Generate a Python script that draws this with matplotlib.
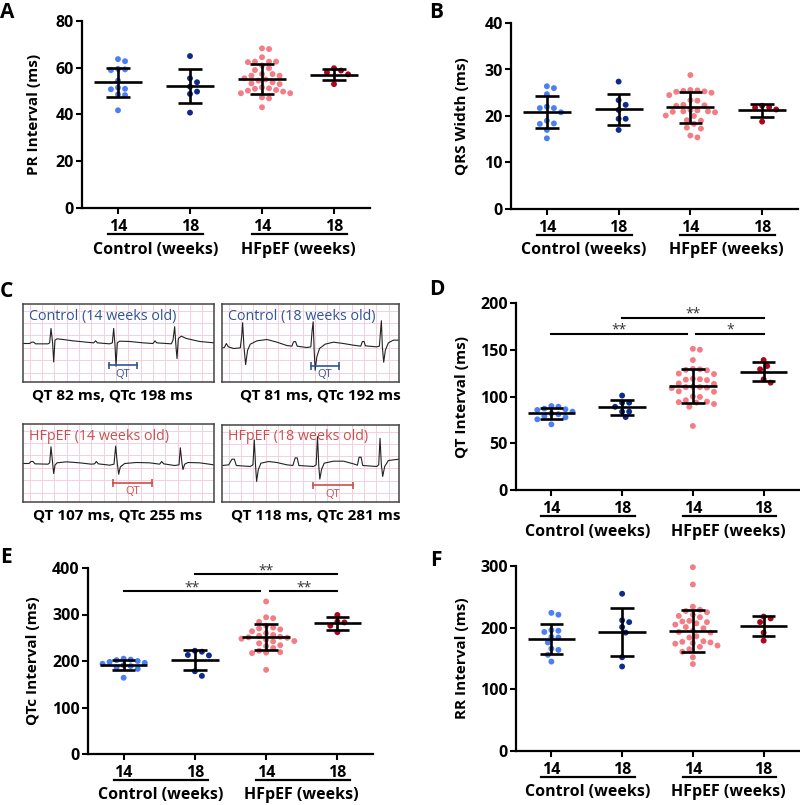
import numpy as np
import matplotlib.pyplot as plt
from matplotlib.transforms import blended_transform_factory

plt.rcParams['font.family'] = ['Open Sans', 'DejaVu Sans']
plt.rcParams['font.weight'] = 'bold'

W, H = 800, 805

# groups (order: control 14, control 18, HFpEF 14, HFpEF 18)
week_labels = ['14', '18', '14', '18']
group_names = ['Control (weeks)', 'HFpEF (weeks)']
dot_colors = ['#4c7ff5', '#0d2b8e', '#f47c84', '#b3001b']

# A: PR interval
pr_c14 = [63.7, 62.8, 59.5, 59.3, 59.0, 54.5, 51.5, 51.0, 50.8, 48.6, 48.3, 41.8]
pr_c18 = [65.0, 55.5, 53.8, 51.9, 49.8, 48.8, 40.8]
pr_h14 = [68.3, 68.0, 64.5, 62.6, 62.6, 62.6, 62.4, 61.0, 59.8, 59.0, 57.3, 57.3,
          56.6, 56.6, 55.5, 55.0, 54.5, 53.8, 53.3, 53.0, 51.6, 51.2, 51.0, 50.5,
          50.2, 49.8, 49.1, 49.1, 47.3, 46.9, 43.1]
pr_h18 = [59.8, 58.8, 58.0, 57.2, 53.0]
pr_mean = [53.8, 52.3, 55.2, 57.1]
pr_sd = [6.3, 7.25, 6.35, 2.5]

# B: QRS width
qrs_c14 = [26.4, 26.0, 24.7, 22.0, 21.7, 21.7, 20.8, 19.0, 18.4, 18.3, 17.0, 15.2]
qrs_c18 = [27.4, 23.4, 22.4, 21.3, 19.4, 19.4, 17.0]
qrs_h14 = [28.8, 25.6, 25.5, 25.4, 25.3, 25.2, 25.0, 24.5, 23.4, 23.3, 22.4, 22.3,
           22.2, 21.3, 21.2, 21.0, 21.0, 20.9, 20.8, 20.1, 20.0, 19.1, 19.0, 18.3,
           17.5, 17.3, 15.8, 15.4]
qrs_h18 = [22.2, 21.9, 21.8, 21.4, 18.8]
qrs_mean = [20.9, 21.4, 21.85, 21.2]
qrs_sd = [3.4, 3.3, 3.25, 1.4]

# D: QT interval
qt_c14 = [89.8, 89.1, 87.0, 86.3, 85.6, 83.8, 82.0, 81.0, 79.1, 77.7, 75.6, 70.2]
qt_c18 = [101.0, 93.4, 93.4, 89.0, 83.8, 83.8, 78.0]
qt_h14 = [151, 150, 139, 129.5, 129, 128.5, 128, 124.5, 124, 119, 118.5, 118, 117.5,
          114, 113.5, 110.5, 110, 110, 109.5, 109, 105.5, 105, 100, 99.5, 96, 94.5,
          94, 93.5, 92, 89, 68.5]
qt_h18 = [139.0, 132.6, 129.1, 118.4, 114.8]
qt_mean = [82.3, 88.4, 111.2, 126.6]
qt_sd = [5.9, 8.2, 17.8, 10.0]
qt_sig = [(1, 3, 184, '**'), (0, 1.92, 167, '**'), (2.05, 3, 167, '*')]

# E: QTc interval
qtc_c14 = [205, 203, 202, 200, 198, 196, 194, 191, 189, 186, 183, 164]
qtc_c18 = [222, 220, 213, 212, 178, 168]
qtc_h14 = [328, 294, 292, 284, 276, 272, 270, 268, 264, 260, 256, 254, 252, 251,
           250, 248, 246, 243, 242, 238, 234, 232, 228, 222, 219, 218, 217, 181]
qtc_h18 = [299, 285, 283, 276, 262]
qtc_mean = [192, 202.2, 252.3, 281]
qtc_sd = [11, 21.2, 27.6, 13.7]
qtc_sig = [(1, 3, 387, '**'), (0, 1.92, 350, '**'), (2.05, 3, 350, '**')]

# F: RR interval
rr_c14 = [224, 221, 196, 195, 193, 185, 184, 176, 166, 164, 156, 145]
rr_c18 = [255, 212, 209, 201, 192, 152, 137]
rr_h14 = [298, 270, 234, 229, 227, 225, 221, 219, 217, 211, 210, 209, 207, 205, 201,
          199, 195, 193, 192, 186, 184, 178, 177, 176, 175, 174, 171, 169, 165, 161,
          152, 141]
rr_h18 = [218, 215, 209, 192, 179]
rr_mean = [181.6, 193.2, 195, 202.7]
rr_sd = [24.5, 39.2, 34.3, 17]

# C: example ECG traces (box-local pixel units)
ecg_titles = ['Control (14 weeks old)', 'Control (18 weeks old)',
              'HFpEF (14 weeks old)', 'HFpEF (18 weeks old)']
ecg_captions = ['QT 82 ms, QTc 198 ms', 'QT 81 ms, QTc 192 ms',
                'QT 107 ms, QTc 255 ms', 'QT 118 ms, QTc 281 ms']
ecg1 = [(10, 130), (30, 130), (36, 126), (42, 126), (48, 131), (85, 131), (90, 128), (94, 85),
        (99, 130), (102, 185), (106, 120), (112, 116), (130, 118), (160, 122), (200, 126),
        (222, 128), (228, 122), (233, 128), (270, 131), (278, 128), (282, 85), (286, 135),
        (289, 198), (293, 128), (300, 123), (330, 124), (370, 128), (400, 130), (406, 122),
        (411, 128), (455, 131), (460, 120), (465, 80), (469, 140), (472, 175), (476, 115),
        (485, 108), (500, 115), (540, 124), (583, 128)]
ecg2 = [(607, 143), (612, 142), (618, 130), (624, 140), (640, 145), (660, 143), (664, 110),
        (667, 68), (671, 140), (676, 193), (682, 150), (690, 132), (710, 122), (740, 118),
        (770, 126), (800, 136), (815, 138), (820, 125), (826, 124), (831, 138), (860, 142),
        (872, 140), (876, 90), (879, 65), (882, 150), (885, 210), (890, 170), (898, 145),
        (915, 132), (940, 126), (970, 130), (1000, 135), (1022, 138), (1027, 124),
        (1032, 124), (1036, 137), (1070, 140), (1078, 138), (1081, 100), (1084, 62),
        (1087, 140), (1091, 186), (1096, 150), (1105, 128), (1120, 120), (1137, 120)]
ecg3 = [(10, 490), (28, 490), (34, 484), (40, 484), (46, 491), (85, 492), (90, 488), (94, 440),
        (99, 490), (102, 520), (106, 495), (112, 488), (140, 485), (180, 488), (215, 492),
        (225, 491), (230, 484), (236, 491), (270, 495), (283, 492), (288, 438), (293, 490),
        (297, 522), (302, 500), (315, 490), (350, 487), (390, 488), (420, 492), (426, 484),
        (432, 491), (465, 496), (478, 494), (482, 443), (487, 490), (490, 508), (495, 492),
        (505, 487), (540, 488), (583, 494)]
ecg4 = [(607, 497), (625, 495), (635, 478), (642, 478), (648, 497), (690, 500), (698, 495),
        (702, 420), (706, 500), (709, 545), (714, 510), (722, 490), (745, 485), (770, 488),
        (800, 495), (818, 497), (825, 474), (831, 474), (836, 497), (880, 500), (888, 495),
        (892, 410), (896, 500), (899, 538), (904, 510), (912, 490), (940, 484), (970, 484),
        (1000, 492), (1012, 496), (1017, 472), (1023, 472), (1028, 497), (1070, 500),
        (1076, 495), (1080, 415), (1084, 495), (1088, 530), (1094, 500), (1105, 482),
        (1137, 478)]
ecg_traces = [ecg1, ecg2, ecg3, ecg4]
# QT bracket: x start, x end, y
qt_brackets = [(268, 353, 195), (872, 958, 197), (280, 397, 548), (878, 1000, 557)]
# box extents in the same units: x0, x1, y0, y1
ecg_boxes = [(10, 583, 12, 245), (605, 1137, 12, 245), (10, 583, 372, 605), (605, 1137, 375, 607)]

fig = plt.figure(figsize=(W / 100, H / 100), dpi=100)


def frac(x0, y0, x1, y1):
    return [x0 / W, 1 - y1 / H, (x1 - x0) / W, (y1 - y0) / H]


def letter(x, y, s):
    fig.text(x / W, 1 - y / H, s, fontsize=15, fontweight='bold', ha='left', va='baseline')


def swarm_offsets(ax, x0, vals, d=6.4):
    pts = ax.transData.transform(np.column_stack([np.full(len(vals), x0), vals]))
    ppu = ax.transData.transform((1, 0))[0] - ax.transData.transform((0, 0))[0]
    order = np.argsort(vals)[::-1]
    placed = []
    offs = np.zeros(len(vals))
    step = d * 0.55
    for i in order:
        y = pts[i, 1]
        for k in range(60):
            cand = ((k + 1) // 2) * step * (1 if k % 2 else -1)
            if all((cand - px) ** 2 + (y - py) ** 2 >= (d * 0.98) ** 2 for px, py in placed):
                break
        placed.append((cand, y))
        offs[i] = cand
    return x0 + offs / ppu


def dot_panel(rect, series, means, sds, ylim, yticks, ylabel, label_x, sig=None):
    ax = fig.add_axes(frac(*rect))
    ax.set_xlim(-0.5, 3.5)
    ax.set_ylim(*ylim)
    for s in ['top', 'right']:
        ax.spines[s].set_visible(False)
    for s in ['left', 'bottom']:
        ax.spines[s].set_linewidth(1.6)
    ax.set_yticks(yticks)
    ax.set_xticks(range(4))
    ax.set_xticklabels(week_labels)
    ax.tick_params(axis='both', length=4, width=1.5, labelsize=11.5, pad=2)
    ax.tick_params(axis='x', pad=4)
    ax.set_ylabel(ylabel, fontsize=11, fontweight='bold')
    ax.yaxis.set_label_coords(label_x, 0.5)
    for i, vals in enumerate(series):
        xs = swarm_offsets(ax, i, vals)
        ax.scatter(xs, vals, s=18, color=dot_colors[i], edgecolors='none', zorder=2, clip_on=False)
        m, sd = means[i], sds[i]
        ax.hlines(m, i - 0.335, i + 0.335, color='black', lw=1.9, zorder=3)
        ax.vlines(i, m - sd, m + sd, color='black', lw=1.9, zorder=3)
        ax.hlines([m - sd, m + sd], i - 0.165, i + 0.165, color='black', lw=1.9, zorder=3)
    tr = blended_transform_factory(ax.transData, ax.transAxes)
    for x0, x1, xc, name in [(-0.14, 1.18, 0.52, group_names[0]), (1.86, 3.18, 2.5, group_names[1])]:
        ax.plot([x0, x1], [-0.139, -0.139], color='black', lw=1.6, transform=tr, clip_on=False)
        ax.text(xc, -0.222, name, transform=tr, ha='center', va='center', fontsize=11.5,
                fontweight='bold')
    if sig:
        for x0, x1, y, stars in sig:
            ax.plot([x0, x1], [y, y], color='black', lw=1.5, clip_on=False)
            ax.annotate(stars, ((x0 + x1) / 2, y), xytext=(0, 0), textcoords='offset points',
                        ha='center', va='baseline', fontsize=10, fontweight='normal',
                        color='#333333', annotation_clip=False)
    return ax


dot_panel((82, 21, 370, 208), [pr_c14, pr_c18, pr_h14, pr_h18], pr_mean, pr_sd,
          (0, 80), [0, 20, 40, 60, 80], 'PR Interval (ms)', -0.142)
dot_panel((511, 23, 798, 209), [qrs_c14, qrs_c18, qrs_h14, qrs_h18], qrs_mean,
          qrs_sd, (0, 40), [0, 10, 20, 30, 40], 'QRS Width (ms)', -0.146)
dot_panel((516, 303, 799, 490), [qt_c14, qt_c18, qt_h14, qt_h18], qt_mean,
          qt_sd, (0, 200), [0, 50, 100, 150, 200], 'QT Interval (ms)', -0.165, qt_sig)
dot_panel((88, 568, 373, 754), [qtc_c14, qtc_c18, qtc_h14, qtc_h18], qtc_mean,
          qtc_sd, (0, 400), [0, 100, 200, 300, 400], 'QTc Interval (ms)', -0.17, qtc_sig)
dot_panel((516, 566, 799, 751), [rr_c14, rr_c18, rr_h14, rr_h18], rr_mean,
          rr_sd, (0, 300), [0, 100, 200, 300], 'RR Interval (ms)', -0.165)

letter(0, 18, 'A')
letter(429, 18, 'B')
letter(0, 297, 'C')
letter(429, 295, 'D')
letter(0, 563, 'E')
letter(430, 566, 'F')

# panel C: ECG examples
ecg_rects = [(23, 304, 214, 382), (222, 304, 399, 382), (23, 424, 214, 502), (222, 425, 399, 502)]
caption_xy = [(112, 396), (320, 396), (118, 515), (316, 515)]
title_colors = ['#2f5597', '#2f5597', '#c9504f', '#c9504f']
for k in range(4):
    ax = fig.add_axes(frac(*ecg_rects[k]))
    bx0, bx1, by0, by1 = ecg_boxes[k]
    ax.set_xlim(bx0, bx1)
    ax.set_ylim(by1, by0)
    ax.set_xticks([])
    ax.set_yticks([])
    for s in ax.spines.values():
        s.set_linewidth(1.1)
        s.set_color('#444444')
    for gx in np.arange(bx0 + 20, bx1, 37):
        ax.axvline(gx, color='#f5cfe0', lw=0.7, zorder=0)
    for gy in np.arange(by0 + 20, by1, 37):
        ax.axhline(gy, color='#f5cfe0', lw=0.7, zorder=0)
    tx, ty = zip(*ecg_traces[k])
    ax.plot(tx, ty, color='#222222', lw=0.8, zorder=2)
    qx0, qx1, qy = qt_brackets[k]
    c = title_colors[k]
    ax.plot([qx0, qx1], [qy, qy], color=c, lw=1.2, zorder=3)
    ax.vlines([qx0, qx1], qy - 11, qy + 11, color=c, lw=1.2, zorder=3)
    ax.text((qx0 + qx1) / 2, qy + 27, 'QT', color=c, fontsize=8, fontweight='normal',
            ha='center', va='center', zorder=3)
    ax.text(bx0 + 18, by0 + 36, ecg_titles[k], color=c, fontsize=10.3, fontweight='normal',
            ha='left', va='center', zorder=3)
    fig.text(caption_xy[k][0] / W, 1 - caption_xy[k][1] / H, ecg_captions[k], fontsize=11,
             fontweight='bold', ha='center', va='center')

fig.savefig('out.png', dpi=100)
